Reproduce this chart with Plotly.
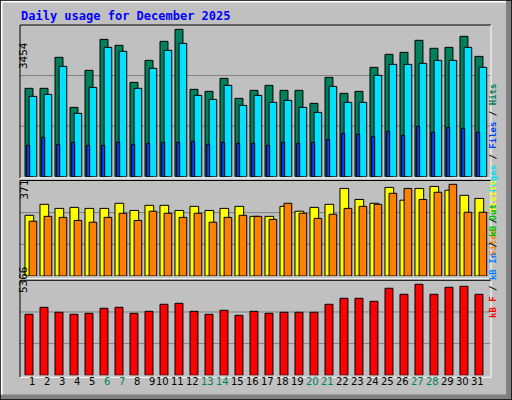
import plotly.graph_objects as go

days = list(range(1, 32))
day_labels = [str(d) for d in days]
weekend = [6, 7, 13, 14, 20, 21, 27, 28]

hits = [2012, 2012, 2718, 1579, 2422, 3127, 2991, 2148, 2649, 3082, 3355, 1989, 1943, 2239, 1784, 1966,
        2080, 1966, 1966, 1670, 2262, 1898, 1943, 2490, 2786, 2831, 3105, 2923, 2945, 3196, 2740]
files = [1829, 1875, 2513, 1442, 2034, 2945, 2854, 2012, 2467, 2877, 3036, 1852, 1761, 2080, 1624, 1852,
         1693, 1738, 1579, 1465, 2057, 1693, 1693, 2308, 2558, 2558, 2581, 2649, 2649, 2945, 2490]
pages = [714, 896, 736, 782, 714, 714, 782, 736, 759, 782, 782, 805, 736, 782, 759, 759,
         714, 782, 759, 782, 850, 987, 964, 918, 1032, 941, 1146, 1010, 1123, 1101, 1010]
visits = [237, 280, 264, 268, 264, 264, 284, 256, 276, 276, 256, 272, 256, 264, 272, 233,
          233, 272, 253, 268, 280, 342, 299, 284, 346, 296, 342, 350, 335, 315, 303]
sites = [214, 233, 229, 217, 210, 229, 245, 217, 253, 245, 229, 245, 210, 229, 237, 233,
         221, 284, 245, 225, 241, 264, 272, 280, 323, 342, 299, 327, 358, 249, 249]
kbytes = [3446, 3841, 3559, 3446, 3502, 3785, 3841, 3502, 3615, 4011, 4067, 3615, 3446, 3672, 3389, 3615,
          3502, 3559, 3559, 3559, 4011, 4350, 4350, 4180, 4915, 4576, 5141, 4576, 4971, 5028, 4576]
max_hits, max_visits, max_kb = 3454, 371, 5366

C_HITS, C_FILES, C_PAGES = "#00805c", "#00e0ff", "#0040ff"
C_VISITS, C_SITES, C_KB = "#ffff00", "#ff8000", "#ff0000"
BG = "#c0c0c0"

W, H = 512, 400
def px(x): return x / W
def py(y): return 1 - y / H

fig = go.Figure()
line = dict(color="black", width=1)

def bar(vals, off, width, color, xa, ya):
    fig.add_trace(go.Bar(x=[d + off for d in days], y=vals, width=width,
                         marker=dict(color=color, line=line), xaxis=xa, yaxis=ya,
                         showlegend=False, hoverinfo="skip"))

bar(hits, 0.267, 0.53, C_HITS, "x", "y")
bar(files, 0.53, 0.51, C_FILES, "x", "y")
bar(pages, 0.213, 0.2, C_PAGES, "x", "y")
bar(visits, 0.29, 0.58, C_VISITS, "x2", "y2")
bar(sites, 0.53, 0.51, C_SITES, "x2", "y2")
bar(kbytes, 0.267, 0.53, C_KB, "x3", "y3")

xr = [0.667, 32.07]
xdom = [px(20), px(491)]
ax = dict(range=xr, domain=xdom, visible=False, fixedrange=True)
def yax(mx, b, t):
    return dict(range=[0, mx], domain=[py(b), py(t)], visible=False, fixedrange=True)

shapes = []
for ya, mx in (("y", max_hits), ("y2", max_visits), ("y3", max_kb)):
    for f in (1/3, 2/3):
        shapes.append(dict(type="line", xref="paper", yref=ya, x0=xdom[0], x1=xdom[1],
                           y0=mx * f, y1=mx * f, line=dict(color="#808080", width=1), layer="below"))
for top, bot in ((25, 178), (180.5, 278.7), (280.3, 377.3)):
    shapes += [
        dict(type="line", xref="paper", yref="paper", x0=px(20), x1=px(491), y0=py(top), y1=py(top), line=line),
        dict(type="line", xref="paper", yref="paper", x0=px(20), x1=px(20), y0=py(top), y1=py(bot), line=line),
        dict(type="line", xref="paper", yref="paper", x0=px(20), x1=px(491), y0=py(bot), y1=py(bot), line=dict(color="white", width=1)),
        dict(type="line", xref="paper", yref="paper", x0=px(491), x1=px(491), y0=py(top), y1=py(bot), line=dict(color="white", width=1)),
    ]
shapes += [
    dict(type="rect", xref="paper", yref="paper", x0=px(506), x1=1, y0=0, y1=1, fillcolor="#808080", line=dict(width=0)),
    dict(type="rect", xref="paper", yref="paper", x0=0, x1=1, y0=0, y1=py(394.5), fillcolor="#808080", line=dict(width=0)),
    dict(type="line", xref="paper", yref="paper", x0=px(1.5), x1=px(506), y0=py(1.5), y1=py(1.5), line=dict(color="white", width=2)),
    dict(type="line", xref="paper", yref="paper", x0=px(1.5), x1=px(1.5), y0=py(1.5), y1=py(394.5), line=dict(color="white", width=2)),
    dict(type="rect", xref="paper", yref="paper", x0=0, x1=1, y0=0, y1=1, line=dict(color="black", width=1.5)),
]

mono = "DejaVu Sans Mono"
ann = [
    dict(text="<b>Daily usage for December 2025</b>", x=px(19), y=py(16), xanchor="left", yanchor="middle",
         font=dict(family=mono, size=12, color="#0000ff")),
    dict(text="3454", x=px(15), y=py(40), textangle=-90, font=dict(family=mono, size=11, color="black")),
    dict(text="371", x=px(15), y=py(190), textangle=-90, font=dict(family=mono, size=11, color="black")),
    dict(text="5366", x=px(15), y=py(295), textangle=-90, font=dict(family=mono, size=11, color="black")),
    dict(text=f"<b><span style='color:{C_FILES}'>Pages</span> / <span style='color:{C_PAGES}'>Files</span> / <span style='color:{C_HITS}'>Hits</span></b>",
         x=px(500), y=py(82), textangle=-90, font=dict(family=mono, size=9, color="black")),
    dict(text=f"<b><span style='color:{C_SITES}'>Sites</span> / <span style='color:{C_VISITS}'>Visits</span></b>",
         x=px(500), y=py(218), textangle=-90, font=dict(family=mono, size=9, color="black")),
    dict(text=f"<b><span style='color:{C_KB}'>kB F</span> / <span style='color:#0080ff'>kB In</span> / <span style='color:#00c000'>kB Out</span></b>",
         x=px(500), y=py(320), textangle=-90, font=dict(family=mono, size=9, color="black")),
]
for d, lab in zip(days, day_labels):
    off = 0.5 if d < 10 else 0.17
    ann.append(dict(text=lab, x=d + off, xref="x3", y=py(389), yref="paper", showarrow=False,
                    font=dict(family="DejaVu Sans", size=10, color=C_HITS if d in weekend else "black")))
for a in ann:
    a.setdefault("xref", "paper"); a.setdefault("yref", "paper"); a["showarrow"] = False

fig.update_layout(
    width=W, height=H, margin=dict(l=0, r=0, t=0, b=0),
    paper_bgcolor=BG, plot_bgcolor="rgba(0,0,0,0)", barmode="overlay",
    xaxis=ax, xaxis2=dict(ax, anchor="y2"), xaxis3=dict(ax, anchor="y3"),
    yaxis=yax(max_hits, 176.7, 25), yaxis2=dict(yax(max_visits, 276, 181), anchor="x2"),
    yaxis3=dict(yax(max_kb, 375.3, 280.3), anchor="x3"),
    shapes=shapes, annotations=ann,
)
fig.write_html("out.html", config={"displayModeBar": False},
               post_script="document.body.style.margin='0';document.body.style.overflow='hidden';")
